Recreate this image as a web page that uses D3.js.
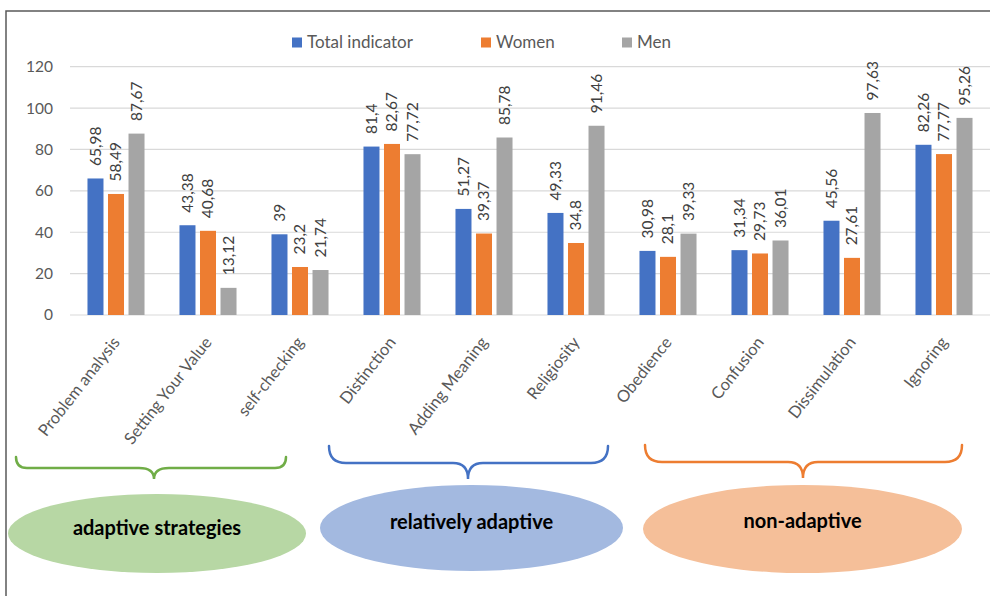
<!DOCTYPE html>
<html>
<head>
<meta charset="utf-8">
<script src="https://cdn.jsdelivr.net/npm/d3@7"></script>
<style>
  html, body { margin: 0; padding: 0; background: #fff; }
  svg { display: block; font-family: Lato, "Open Sans", sans-serif; }
</style>
</head>
<body>
<svg id="chart" width="990" height="596"></svg>
<script>
// Coping strategies: indicators for the whole sample, women and men
const categories = [
  "Problem analysis", "Setting Your Value", "self-checking", "Distinction",
  "Adding Meaning", "Religiosity", "Obedience", "Confusion", "Dissimulation", "Ignoring"
];
const seriesNames = ["Total indicator", "Women", "Men"];
const totalValues = [65.98, 43.38, 39, 81.4, 51.27, 49.33, 30.98, 31.34, 45.56, 82.26];
const womenValues = [58.49, 40.68, 23.2, 82.67, 39.37, 34.8, 28.1, 29.73, 27.61, 77.77];
const menValues   = [87.67, 13.12, 21.74, 77.72, 85.78, 91.46, 39.33, 36.01, 97.63, 95.26];
const yTicks = [0, 20, 40, 60, 80, 100, 120];

// Strategy groups shown under the axis
const groupNames = ["adaptive strategies", "relatively adaptive", "non-adaptive"];

const seriesColors = ["#4472c4", "#ed7d31", "#a5a5a5"];
const groupStroke = ["#70ad47", "#4472c4", "#ed7d31"];
const groupFill = ["#b7d7a4", "#a3b9e0", "#f5bf99"];

const svg = d3.select("#chart");

// frame lines
svg.append("path")
  .attr("d", "M6,596V11H990")
  .attr("fill", "none")
  .attr("stroke", "#595959")
  .attr("stroke-width", 1.5);

const x = d3.scaleBand()
  .domain(categories)
  .range([70, 990])
  .paddingInner(0.38)
  .paddingOuter(0.19);

const xSub = d3.scaleBand()
  .domain(seriesNames)
  .range([0, x.bandwidth()])
  .paddingInner(0.22);

const y = d3.scaleLinear().domain([0, 120]).range([315, 66.7]);

// gridlines
svg.append("g")
  .selectAll("line")
  .data(yTicks)
  .join("line")
  .attr("x1", 70).attr("x2", 990)
  .attr("y1", d => y(d)).attr("y2", d => y(d))
  .attr("stroke", "#d9d9d9")
  .attr("stroke-width", 1.2);

// y axis labels
const yAxis = svg.append("g")
  .attr("transform", "translate(53,0)")
  .call(d3.axisLeft(y).tickValues(yTicks).tickSize(0).tickPadding(0));
yAxis.select(".domain").remove();
yAxis.selectAll("text")
  .attr("fill", "#595959")
  .style("font-family", "Lato, sans-serif")
  .style("font-size", "15.5px");

const seriesData = [totalValues, womenValues, menValues];
const fmt = v => String(v).replace(".", ",");

const groups = svg.append("g")
  .selectAll("g")
  .data(categories)
  .join("g")
  .attr("transform", d => `translate(${x(d)},0)`);

groups.each(function(cat, i) {
  const g = d3.select(this);
  const rows = seriesNames.map((s, k) => ({ s, k, v: seriesData[k][i] }));
  g.selectAll("rect")
    .data(rows)
    .join("rect")
    .attr("x", d => xSub(d.s))
    .attr("width", xSub.bandwidth())
    .attr("y", d => y(d.v))
    .attr("height", d => y(0) - y(d.v))
    .attr("fill", d => seriesColors[d.k]);
  g.selectAll("text")
    .data(rows)
    .join("text")
    .attr("transform", d => `translate(${xSub(d.s) + xSub.bandwidth() / 2},${y(d.v) - 12.5}) rotate(-90)`)
    .attr("dy", "0.35em")
    .attr("text-anchor", "start")
    .attr("fill", "#404040")
    .style("font-size", "15.5px")
    .text(d => fmt(d.v));
});

// category labels
svg.append("g")
  .selectAll("text")
  .data(categories)
  .join("text")
  .attr("transform", d => `translate(${x(d) + x.bandwidth() / 2},339) rotate(-52)`)
  .attr("dy", "0.35em")
  .attr("text-anchor", "end")
  .attr("fill", "#595959")
  .style("font-size", "16.5px")
  .text(d => d);

// legend
const legendX = [292, 481, 622];
const legend = svg.append("g")
  .selectAll("g")
  .data(seriesNames)
  .join("g")
  .attr("transform", (d, i) => `translate(${legendX[i]},0)`);
legend.append("rect")
  .attr("x", 0).attr("y", 37.5)
  .attr("width", 10).attr("height", 10)
  .attr("fill", (d, i) => seriesColors[i]);
legend.append("text")
  .attr("x", 15).attr("y", 47.5)
  .attr("fill", "#595959")
  .style("font-size", "17px")
  .text(d => d);

// group braces and ellipses
const braceLayout = [
  { x0: 16, x1: 286, top: 457, line: 468, tip: 479, mid: 154 },
  { x0: 329, x1: 608, top: 446, line: 463, tip: 479, mid: 468 },
  { x0: 645, x1: 962, top: 445, line: 462, tip: 478, mid: 803 }
];
const ellipseLayout = [
  { cx: 157, cy: 533.5, rx: 149, ry: 39.5, ty: 534.5 },
  { cx: 471.5, cy: 528, rx: 151.5, ry: 43, ty: 528.5 },
  { cx: 802.5, cy: 529, rx: 159.5, ry: 44, ty: 527.5 }
];

function bracePath(b) {
  const r = b.line - b.top;
  const r2 = 15;
  return `M${b.x0},${b.top}Q${b.x0},${b.line} ${b.x0 + r},${b.line}` +
    `H${b.mid - r2}Q${b.mid},${b.line} ${b.mid},${b.tip}` +
    `Q${b.mid},${b.line} ${b.mid + r2},${b.line}` +
    `H${b.x1 - r}Q${b.x1},${b.line} ${b.x1},${b.top}`;
}

const annot = svg.append("g");
annot.selectAll("path")
  .data(groupNames)
  .join("path")
  .attr("d", (d, i) => bracePath(braceLayout[i]))
  .attr("fill", "none")
  .attr("stroke", (d, i) => groupStroke[i])
  .attr("stroke-width", 2.5)
  .attr("stroke-linecap", "round");

annot.selectAll("ellipse")
  .data(groupNames)
  .join("ellipse")
  .attr("cx", (d, i) => ellipseLayout[i].cx)
  .attr("cy", (d, i) => ellipseLayout[i].cy)
  .attr("rx", (d, i) => ellipseLayout[i].rx)
  .attr("ry", (d, i) => ellipseLayout[i].ry)
  .attr("fill", (d, i) => groupFill[i]);

annot.selectAll("text")
  .data(groupNames)
  .join("text")
  .attr("x", (d, i) => ellipseLayout[i].cx)
  .attr("y", (d, i) => ellipseLayout[i].ty)
  .attr("text-anchor", "middle")
  .attr("fill", "#000")
  .style("font-size", "20px")
  .style("font-weight", "bold")
  .text(d => d);
</script>
</body>
</html>
